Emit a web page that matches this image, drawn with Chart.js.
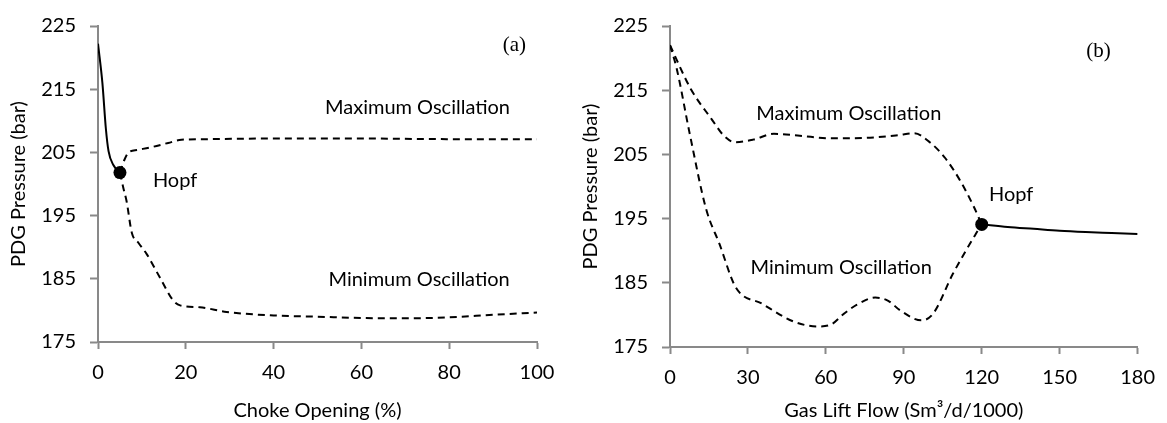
<!DOCTYPE html>
<html>
<head>
<meta charset="utf-8">
<script src="https://cdn.jsdelivr.net/npm/chart.js@4/dist/chart.umd.min.js"></script>
<style>
  body { margin: 0; background: #fff; }
  .wrap { display: flex; width: 1167px; height: 423px; }
  canvas { display: block; }
</style>
</head>
<body>
<div class="wrap">
  <canvas id="chart-a" width="572" height="423"></canvas>
  <canvas id="chart-b" width="595" height="423"></canvas>
</div>
<script>
// Panel (a): PDG pressure vs choke opening
const chokeStableX = [0, 1, 1.8, 2.4, 3.5, 5];
const chokeStableY = [222.2, 216, 208.7, 205.2, 203.0, 201.8];
const chokeMaxX = [5, 6, 7, 9, 12, 16, 19, 25, 40, 60, 80, 100];
const chokeMaxY = [201.8, 203.8, 205.0, 205.4, 205.8, 206.5, 207.0, 207.1, 207.2, 207.2, 207.1, 207.1];
const chokeMinX = [5, 5.8, 6.5, 7.7, 9.2, 11.1, 14.1, 17.1, 18.7, 23.2, 29.3, 40, 50, 60, 70, 80, 90, 100];
const chokeMinY = [201.8, 199.3, 197.3, 192.3, 190.7, 188.9, 185.2, 181.6, 180.8, 180.5, 179.75, 179.2, 179.0, 178.8, 178.75, 178.9, 179.3, 179.65];
const chokeHopf = [5, 201.8];

// Panel (b): PDG pressure vs gas lift flow
const gasStableX = [120, 130, 140, 150, 160, 170, 180];
const gasStableY = [194.1, 193.7, 193.4, 193.1, 192.9, 192.75, 192.6];
const gasMaxX = [0, 8, 16, 21, 25, 32, 40, 50, 62, 77, 88, 94, 100, 106, 112, 117, 120];
const gasMaxY = [222, 215.2, 210.5, 207.8, 206.9, 207.3, 208.2, 207.9, 207.5, 207.6, 208.0, 208.3, 206.9, 204.4, 200.7, 196.8, 194.1];
const gasMinX = [0, 2.5, 7.6, 13.9, 19, 25.3, 35.4, 48, 57, 62, 67, 72, 79, 84, 88.6, 96.8, 101.3, 108.9, 117.7, 120];
const gasMinY = [222, 218.5, 208.2, 196.5, 191.1, 184.3, 181.75, 178.9, 178.2, 178.5, 180.2, 181.6, 182.7, 182.2, 180.7, 179.15, 180.2, 186.4, 192.6, 194.1];
const gasHopf = [120, 194.1];

const yTicks = [175, 185, 195, 205, 215, 225];
const chokeTicks = [0, 20, 40, 60, 80, 100];
const gasTicks = [0, 30, 60, 90, 120, 150, 180];

const AXIS_GREY = '#898989';
const FONT = 'Lato, "Open Sans", sans-serif';
const SERIF = '"Liberation Serif", "DejaVu Serif", serif';

function toPoints(xs, ys) {
  return xs.map((x, i) => ({ x, y: ys[i] }));
}

function curve(xs, ys, dashed) {
  return {
    data: toPoints(xs, ys),
    borderColor: '#000',
    borderWidth: 2,
    borderDash: dashed ? [7, 5] : [],
    pointRadius: 0,
    tension: 0.4,
    cubicInterpolationMode: 'monotone',
    fill: false,
  };
}

function hopfPoint(p) {
  return {
    data: [{ x: p[0], y: p[1] }],
    showLine: false,
    pointRadius: 6.5,
    pointBackgroundColor: '#000',
    pointBorderColor: '#000',
    pointBorderWidth: 0,
  };
}

// text notes placed in data coordinates
function notes(items) {
  return {
    id: 'notes',
    afterDatasetsDraw(chart) {
      const { ctx, scales: { x, y } } = chart;
      ctx.save();
      ctx.fillStyle = '#000';
      ctx.textAlign = 'left';
      ctx.textBaseline = 'alphabetic';
      items.forEach(n => {
        ctx.font = n.font;
        ctx.fillText(n.text, x.getPixelForValue(n.x), y.getPixelForValue(n.y));
      });
      ctx.restore();
    },
  };
}

function makeChart(id, cfg) {
  const tickFont = { family: FONT, size: 20 };
  return new Chart(document.getElementById(id), {
    type: 'line',
    data: { datasets: cfg.datasets },
    options: {
      responsive: false,
      animation: false,
      events: [],
      layout: { padding: { left: 0, right: cfg.padRight, top: cfg.padTop, bottom: 0 } },
      plugins: { legend: { display: false }, tooltip: { enabled: false } },
      scales: {
        x: {
          type: 'linear',
          min: cfg.xTicks[0],
          max: cfg.xTicks[cfg.xTicks.length - 1],
          afterBuildTicks: s => { s.ticks = cfg.xTicks.map(v => ({ value: v })); },
          ticks: { color: '#000', font: tickFont, padding: 12, maxRotation: 0 },
          grid: { display: true, drawOnChartArea: false, drawTicks: true, tickLength: 7, tickColor: AXIS_GREY, tickWidth: 2 },
          border: { display: true, color: AXIS_GREY, width: 2 },
          title: { display: true, text: cfg.xTitle, color: '#000', font: tickFont, padding: { top: 0, bottom: 0 } },
          afterFit: s => { s.height = cfg.xHeight; },
        },
        y: {
          type: 'linear',
          min: yTicks[0],
          max: yTicks[yTicks.length - 1],
          afterBuildTicks: s => { s.ticks = yTicks.map(v => ({ value: v })); },
          ticks: { color: '#000', font: tickFont, padding: 14 },
          grid: { display: true, drawOnChartArea: false, drawTicks: true, tickLength: 8, tickColor: AXIS_GREY, tickWidth: 2 },
          border: { display: true, color: AXIS_GREY, width: 2 },
          title: { display: true, text: 'PDG Pressure (bar)', color: '#000', font: tickFont, padding: { top: 7, bottom: 0 } },
          afterFit: s => { s.width = 98; },
        },
      },
    },
    plugins: [notes(cfg.notes)],
  });
}

const sans = '20px ' + FONT;
const serif = '21px ' + SERIF;

makeChart('chart-a', {
  padRight: 35,
  padTop: 23,
  xHeight: 81,
  xTicks: chokeTicks,
  xTitle: 'Choke Opening (%)',
  datasets: [
    hopfPoint(chokeHopf),
    curve(chokeStableX, chokeStableY, false),
    curve(chokeMaxX, chokeMaxY, true),
    curve(chokeMinX, chokeMinY, true),
  ],
  notes: [
    { text: 'Maximum Oscillation', x: 51.7, y: 211.1, font: sans },
    { text: 'Minimum Oscillation', x: 52.5, y: 183.8, font: sans },
    { text: 'Hopf', x: 12.5, y: 199.6, font: sans },
    { text: '(a)', x: 92.2, y: 221.1, font: serif },
  ],
});

makeChart('chart-b', {
  padRight: 23,
  padTop: 25,
  xHeight: 76,
  xTicks: gasTicks,
  xTitle: 'Gas Lift Flow (Sm³/d/1000)',
  datasets: [
    hopfPoint(gasHopf),
    curve(gasStableX, gasStableY, false),
    curve(gasMaxX, gasMaxY, true),
    curve(gasMinX, gasMinY, true),
  ],
  notes: [
    { text: 'Maximum Oscillation', x: 33.2, y: 210.4, font: sans },
    { text: 'Minimum Oscillation', x: 31.0, y: 186.4, font: sans },
    { text: 'Hopf', x: 122.8, y: 197.7, font: sans },
    { text: '(b)', x: 160.2, y: 220.1, font: serif },
  ],
});
</script>
</body>
</html>
